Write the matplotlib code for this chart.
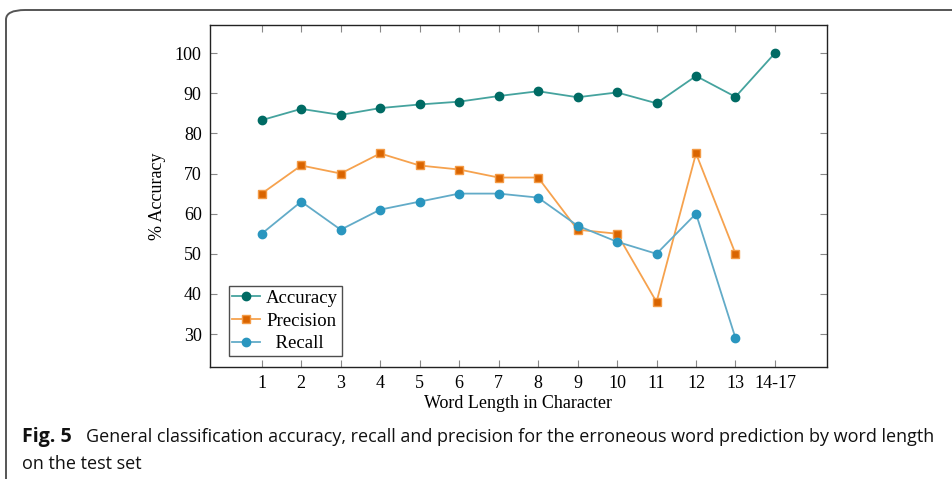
import matplotlib.pyplot as plt
from matplotlib.patches import FancyBboxPatch
from matplotlib import font_manager

# Datos
etiquetas = ['1', '2', '3', '4', '5', '6', '7', '8', '9', '10', '11', '12', '13', '14-17']
accuracy = [83.3, 86.1, 84.6, 86.3, 87.2, 87.9, 89.3, 90.5, 89.0, 90.2, 87.5, 94.3, 89.1, 100]
precision = [65, 72, 70, 75, 72, 71, 69, 69, 56, 55, 38, 75, 50]
recall = [55, 63, 56, 61, 63, 65, 65, 64, 57, 53, 50, 60, 29]

x_acc = list(range(1, len(accuracy) + 1))
x_pre = list(range(1, len(precision) + 1))
x_rec = list(range(1, len(recall) + 1))

plt.rcParams['font.family'] = ['Liberation Serif', 'DejaVu Serif']

fig = plt.figure(figsize=(9.53, 4.79), dpi=100)
ax = fig.add_axes([210 / 953, 1 - 367 / 479, (826.7 - 210) / 953, (367 - 25) / 479])

ax.plot(x_acc, accuracy, color='#45a39e', lw=1.3, marker='o', ms=6,
        mfc='#006b64', mec='#006b64', label='Accuracy')
ax.plot(x_pre, precision, color='#f6a24e', lw=1.3, marker='s', ms=6,
        mfc='#d96400', mec='#f39a45', label='Precision')
ax.plot(x_rec, recall, color='#62abc8', lw=1.3, marker='o', ms=6,
        mfc='#2a96bf', mec='#2a96bf', label='  Recall')

ax.set_xlim(-0.31, 15.31)
ax.set_ylim(21.8, 107)
ax.set_xticks(x_acc)
ax.set_xticklabels(etiquetas)
ax.set_yticks([30, 40, 50, 60, 70, 80, 90, 100])
ax.tick_params(direction='in', length=5, width=0.8, color='#888888',
               top=True, right=True, labelsize=13, pad=6)
for s in ax.spines.values():
    s.set_color('#222222')
    s.set_linewidth(1.0)

ax.set_xlabel('Word Length in Character', fontsize=13, labelpad=2)
ax.set_ylabel('% Accuracy', fontsize=13, labelpad=6)

leg = ax.legend(loc='lower left', bbox_to_anchor=(0.03, 0.032), fontsize=13.5,
                frameon=True, fancybox=False, handlelength=1.5, handletextpad=0.3,
                borderpad=0.2, labelspacing=0.3, borderaxespad=0)
leg.get_frame().set_edgecolor('#222222')
leg.get_frame().set_linewidth(1.0)

# Marco redondeado exterior
marco = FancyBboxPatch((6 / 953, -0.05), 1.2, 1 - 10 / 479 + 0.05,
                       boxstyle='round,pad=0,rounding_size=0.02',
                       transform=fig.transFigure, fill=False,
                       edgecolor='#555555', lw=1.4, clip_on=False)
fig.patches.append(marco)

# Pie de figura (fuente estrecha si existe)
disponibles = {f.name for f in font_manager.fontManager.ttflist}
fuente_pie = [f for f in ['Liberation Sans Narrow', 'DejaVu Sans Condensed', 'Open Sans', 'DejaVu Sans']
              if f in disponibles][:1] + ['DejaVu Sans']

renderer = fig.canvas.get_renderer()


def texto_ajustado(x0, y0, s, ancho_px, **kw):
    t = fig.text(x0 / 953, 1 - y0 / 479, s, fontsize=14, family=fuente_pie,
                 va='center', color='#111111', **kw)
    w = t.get_window_extent(renderer).width
    t.set_fontsize(14 * ancho_px / w)
    return t


t1 = texto_ajustado(22, 437, 'Fig. 5', 50, fontweight='bold')
t2 = texto_ajustado(86, 437,
                    'General classification accuracy, recall and precision for the erroneous word prediction by word length',
                    856)
t3 = fig.text(22 / 953, 1 - 464 / 479, 'on the test set', fontsize=t2.get_fontsize(),
              family=fuente_pie, va='center', color='#111111')

fig.savefig('out.png', dpi=100)
